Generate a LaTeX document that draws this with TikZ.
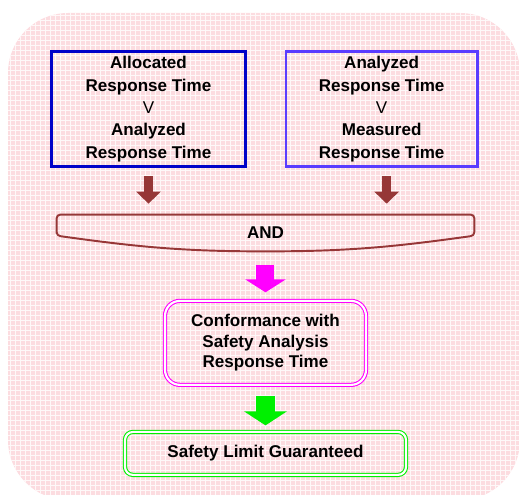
\documentclass[tikz,border=0pt]{standalone}
\usepackage{fontspec}
\setmainfont{Liberation Sans}
\usetikzlibrary{arrows.meta,positioning}
\definecolor{bgpink}{RGB}{252,220,224}
\definecolor{darkblue}{RGB}{0,0,200}
\definecolor{violetblue}{RGB}{90,60,255}
\definecolor{rust}{RGB}{150,55,55}
\definecolor{brightgreen}{RGB}{0,240,0}
\definecolor{fuchsia}{RGB}{255,0,255}

\begin{document}
\begin{tikzpicture}[
 node distance=9mm, font=\bfseries\fontsize{9.7}{12.7}\selectfont,
 box/.style={draw, line width=1.5pt, align=center, minimum width=3.87cm, minimum height=2.31cm, inner sep=2pt},
 andbox/.style={align=center, minimum width=8.34cm, minimum height=0.72cm, inner sep=0pt},
 confbox/.style={draw=fuchsia, double, line width=0.6pt, double distance=1.2pt, rounded corners=0.3cm,
   align=center, minimum width=4.02cm, minimum height=1.68cm, font=\bfseries\fontsize{9.7}{11.7}\selectfont},
 safebox/.style={confbox, draw=brightgreen, rounded corners=0.16cm, minimum width=5.62cm, minimum height=0.86cm},
 blockarrow/.style={line width=0.18cm, -{Triangle[width=0.48cm, length=0.24cm]}, draw=rust}]

% backdrop with its checked texture
\useasboundingbox (0,0) rectangle (10.38,9.9);
\fill[bgpink, rounded corners=1.2cm] (0.16,-0.1) rectangle (10.4,9.64);
\begin{scope}
 \clip[rounded corners=1.2cm] (0.16,-0.1) rectangle (10.4,9.64);
 \draw[white, line width=0.35pt, opacity=0.8] (0,-0.1) grid[step=0.1] (10.4,9.7);
\end{scope}

% the two comparisons
\node[box, draw=darkblue] (alloc) at (2.97,7.72)
  {Allocated\\ Response Time\\ {\mdseries V}\\ Analyzed\\ Response Time};
\node[box, draw=violetblue, right=0.76cm of alloc, minimum width=3.83cm] (meas)
  {Analyzed\\ Response Time\\ {\mdseries V}\\ Measured\\ Response Time};

% AND bracket
\node[andbox] (and) at (5.31,5.24) {AND};
\draw[rust, line width=1.1pt, rounded corners=2pt]
  ([yshift=-0.42cm]and.north west) -- (and.north west) -- (and.north east) -- ([yshift=-0.42cm]and.north east)
  to[out=-172, in=0] (and.south) to[out=180, in=-8] cycle;

\node[confbox, below=0.98cm of and] (conf) {Conformance with\\ Safety Analysis\\ Response Time};
\node[safebox, below=0.92cm of conf] (safe) {Safety Limit Guaranteed};

% arrows
\draw[blockarrow] ([yshift=-0.16cm]alloc.south) -- ([yshift=0.22cm]alloc.south |- and.north);
\draw[blockarrow] ([xshift=0.1cm, yshift=-0.16cm]meas.south) -- ([xshift=0.1cm, yshift=0.22cm]meas.south |- and.north);
\draw[blockarrow, draw=fuchsia, line width=0.36cm, -{Triangle[width=0.8cm, length=0.26cm]}]
  ([yshift=-0.28cm]and.south) -- ([yshift=0.16cm]conf.north);
\draw[blockarrow, draw=brightgreen, line width=0.37cm, -{Triangle[width=0.84cm, length=0.28cm]}]
  ([yshift=-0.22cm]conf.south) -- ([yshift=0.12cm]safe.north);
\end{tikzpicture}
\end{document}
